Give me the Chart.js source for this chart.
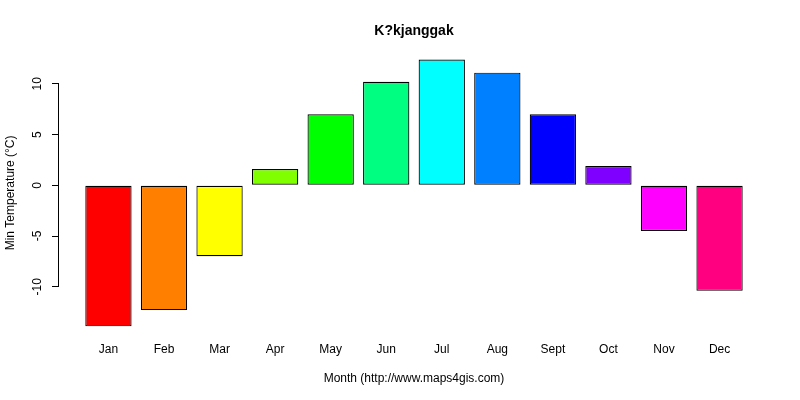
<!DOCTYPE html>
<html>
<head>
<meta charset="utf-8">
<script src="https://cdn.jsdelivr.net/npm/chart.js@4/dist/chart.umd.min.js"></script>
<style>
  html, body { margin: 0; padding: 0; background: #fff; }
  #wrap { width: 800px; height: 400px; }
</style>
</head>
<body>
<div id="wrap"><canvas id="grafica"></canvas></div>
<script>
const meses = ['Jan', 'Feb', 'Mar', 'Apr', 'May', 'Jun', 'Jul', 'Aug', 'Sept', 'Oct', 'Nov', 'Dec'];
const tempMin = [-13.9, -12.3, -7.0, 1.6, 7.0, 10.2, 12.4, 11.1, 7.0, 1.9, -4.5, -10.4];
const colores = ['#FF0000', '#FF8000', '#FFFF00', '#80FF00', '#00FF00', '#00FF80',
                 '#00FFFF', '#0080FF', '#0000FF', '#8000FF', '#FF00FF', '#FF0080'];
const ticksY = [-10, -5, 0, 5, 10];

const fuente = 'Liberation Sans, Arial, sans-serif';

// eje Y al estilo R: linea solo entre el primer y el ultimo tick
const ejeR = {
  id: 'ejeR',
  afterDraw(chart) {
    const y = chart.scales.y;
    const ctx = chart.ctx;
    ctx.save();
    ctx.strokeStyle = '#000';
    ctx.lineWidth = 1;
    ctx.beginPath();
    ctx.moveTo(y.right - 0.5, y.getPixelForValue(ticksY[0]));
    ctx.lineTo(y.right - 0.5, y.getPixelForValue(ticksY[ticksY.length - 1]));
    ctx.stroke();
    ctx.restore();
  }
};

new Chart(document.getElementById('grafica'), {
  type: 'bar',
  data: {
    datasets: [{
      data: tempMin.map((v, i) => ({ x: i, y: v })),
      backgroundColor: colores,
      borderColor: '#000',
      borderWidth: 1.2,
      borderSkipped: false,
      barPercentage: 1 / 1.2,
      categoryPercentage: 1
    }]
  },
  plugins: [ejeR],
  options: {
    responsive: true,
    maintainAspectRatio: false,
    animation: false,
    layout: { padding: { left: 0, right: 31, top: 0, bottom: 0 } },
    plugins: {
      legend: { display: false },
      tooltip: { enabled: false },
      title: {
        display: true,
        text: 'K?kjanggak',
        fullSize: false,
        color: '#000',
        font: { family: fuente, size: 14, weight: 'bold' },
        padding: { top: 23, bottom: 9 }
      }
    },
    scales: {
      x: {
        type: 'linear',
        min: -0.89,
        max: 11.89,
        offset: false,
        afterFit(scale) { scale.height = 63; },
        afterBuildTicks(scale) { scale.ticks = meses.map((m, i) => ({ value: i })); },
        grid: { display: false, drawTicks: false },
        border: { display: false },
        ticks: {
          color: '#000',
          font: { family: fuente, size: 12 },
          padding: 5,
          maxRotation: 0,
          autoSkip: false,
          callback: v => meses[v]
        },
        title: {
          display: true,
          text: 'Month (http://www.maps4gis.com)',
          color: '#000',
          font: { family: fuente, size: 12 },
          padding: { top: 0, bottom: 14 }
        }
      },
      y: {
        min: -14.95,
        max: 13.45,
        afterFit(scale) { scale.width = 59; },
        afterBuildTicks(scale) { scale.ticks = ticksY.map(v => ({ value: v })); },
        grid: {
          drawOnChartArea: false,
          drawTicks: true,
          tickLength: 7,
          color: '#000'
        },
        border: { display: false },
        ticks: {
          color: '#000',
          font: { family: fuente, size: 12 },
          minRotation: 90,
          maxRotation: 90,
          crossAlign: 'center',
          padding: 6
        },
        title: {
          display: true,
          text: 'Min Temperature (°C)',
          color: '#000',
          font: { family: fuente, size: 12 },
          padding: { top: 3, bottom: 0 }
        }
      }
    }
  }
});
</script>
</body>
</html>
